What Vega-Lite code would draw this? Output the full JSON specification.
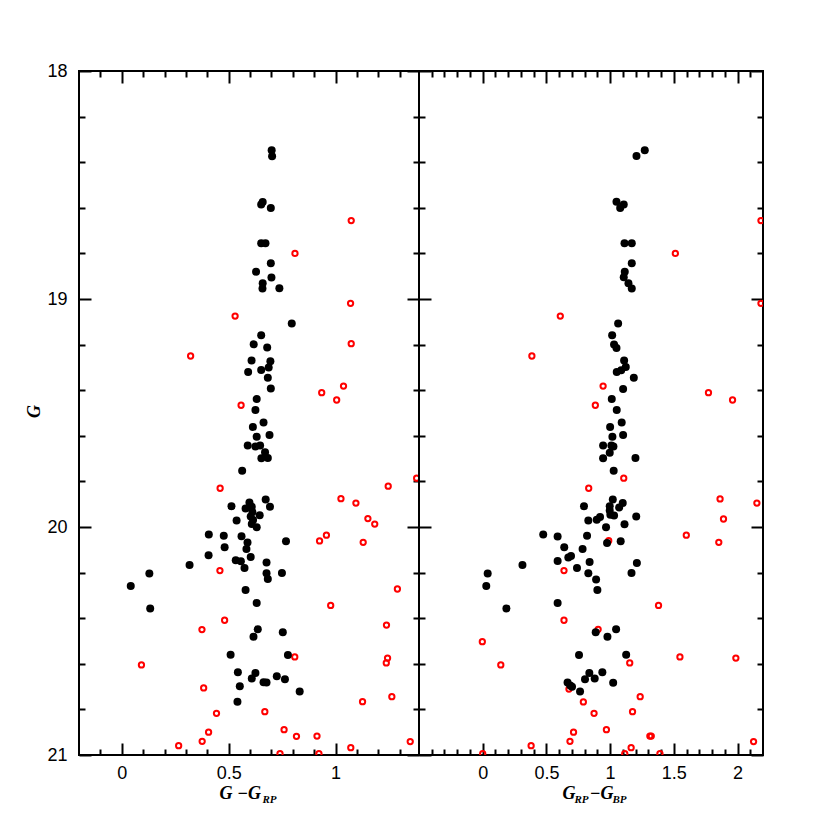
{
  "$schema": "https://vega.github.io/schema/vega-lite/v6.json",
  "background": "white",
  "padding": {"left": 24, "top": 61, "right": 5, "bottom": 5},
  "spacing": 0,
  "bounds": "flush",
  "config": {
    "view": {"stroke": "black", "strokeWidth": 2},
    "axis": {
      "domain": false, "grid": false,
      "labelFont": "Liberation Sans", "labelFontSize": 18, "labelColor": "black",
      "labelFlush": false, "labelOverlap": false,
      "tickColor": "black", "tickWidth": 2,
      "titleFont": "Liberation Serif", "titleFontStyle": "italic", "titleFontWeight": "bold",
      "titleFontSize": 18, "titleColor": "black"
    }
  },
  "datasets": {
    "left": [
      {"c":0.701,"G":18.348,"t":"m"},{"c":0.703,"G":18.374,"t":"m"},{"c":0.659,"G":18.575,"t":"m"},{"c":0.652,"G":18.585,"t":"m"},{"c":0.697,"G":18.601,"t":"m"},{"c":0.652,"G":18.756,"t":"m"},{"c":0.672,"G":18.756,"t":"m"},{"c":0.697,"G":18.843,"t":"m"},{"c":0.628,"G":18.880,"t":"m"},{"c":0.700,"G":18.906,"t":"m"},{"c":0.659,"G":18.931,"t":"m"},{"c":0.658,"G":18.954,"t":"m"},{"c":0.737,"G":18.953,"t":"m"},
      {"c":0.795,"G":19.108,"t":"m"},{"c":0.652,"G":19.159,"t":"m"},{"c":0.617,"G":19.199,"t":"m"},{"c":0.680,"G":19.213,"t":"m"},{"c":0.607,"G":19.270,"t":"m"},{"c":0.695,"G":19.273,"t":"m"},{"c":0.591,"G":19.320,"t":"m"},{"c":0.652,"G":19.311,"t":"m"},{"c":0.687,"G":19.300,"t":"m"},{"c":0.683,"G":19.345,"t":"m"},{"c":0.697,"G":19.393,"t":"m"},{"c":0.631,"G":19.439,"t":"m"},{"c":0.625,"G":19.487,"t":"m"},{"c":0.663,"G":19.542,"t":"m"},{"c":0.613,"G":19.561,"t":"m"},{"c":0.631,"G":19.604,"t":"m"},{"c":0.691,"G":19.596,"t":"m"},{"c":0.589,"G":19.642,"t":"m"},{"c":0.625,"G":19.647,"t":"m"},{"c":0.647,"G":19.643,"t":"m"},{"c":0.670,"G":19.672,"t":"m"},{"c":0.653,"G":19.699,"t":"m"},{"c":0.683,"G":19.697,"t":"m"},{"c":0.563,"G":19.753,"t":"m"},
      {"c":0.673,"G":19.879,"t":"m"},{"c":0.513,"G":19.909,"t":"m"},{"c":0.597,"G":19.893,"t":"m"},{"c":0.579,"G":19.919,"t":"m"},{"c":0.608,"G":19.911,"t":"m"},{"c":0.693,"G":19.911,"t":"m"},{"c":0.611,"G":19.934,"t":"m"},{"c":0.645,"G":19.949,"t":"m"},{"c":0.603,"G":19.954,"t":"m"},{"c":0.537,"G":19.971,"t":"m"},{"c":0.614,"G":19.969,"t":"m"},{"c":0.608,"G":19.987,"t":"m"},{"c":0.631,"G":20.001,"t":"m"},{"c":0.407,"G":20.033,"t":"m"},{"c":0.477,"G":20.038,"t":"m"},{"c":0.560,"G":20.041,"t":"m"},{"c":0.588,"G":20.068,"t":"m"},{"c":0.768,"G":20.063,"t":"m"},{"c":0.481,"G":20.089,"t":"m"},{"c":0.583,"G":20.096,"t":"m"},{"c":0.406,"G":20.124,"t":"m"},{"c":0.603,"G":20.132,"t":"m"},{"c":0.533,"G":20.146,"t":"m"},{"c":0.557,"G":20.150,"t":"m"},{"c":0.317,"G":20.167,"t":"m"},{"c":0.677,"G":20.156,"t":"m"},{"c":0.574,"G":20.180,"t":"m"},{"c":0.129,"G":20.204,"t":"m"},{"c":0.677,"G":20.203,"t":"m"},{"c":0.749,"G":20.202,"t":"m"},{"c":0.683,"G":20.228,"t":"m"},{"c":0.042,"G":20.259,"t":"m"},{"c":0.579,"G":20.276,"t":"m"},{"c":0.133,"G":20.357,"t":"m"},{"c":0.631,"G":20.333,"t":"m"},{"c":0.636,"G":20.449,"t":"m"},{"c":0.616,"G":20.481,"t":"m"},{"c":0.753,"G":20.462,"t":"m"},
      {"c":0.509,"G":20.560,"t":"m"},{"c":0.777,"G":20.561,"t":"m"},{"c":0.543,"G":20.637,"t":"m"},{"c":0.625,"G":20.640,"t":"m"},{"c":0.608,"G":20.664,"t":"m"},{"c":0.725,"G":20.655,"t":"m"},{"c":0.763,"G":20.668,"t":"m"},{"c":0.663,"G":20.681,"t":"m"},{"c":0.677,"G":20.682,"t":"m"},{"c":0.552,"G":20.699,"t":"m"},{"c":0.832,"G":20.721,"t":"m"},{"c":0.541,"G":20.766,"t":"m"},
      {"c":1.073,"G":18.656,"t":"n"},{"c":0.810,"G":18.800,"t":"n"},{"c":1.070,"G":19.019,"t":"n"},{"c":0.530,"G":19.075,"t":"n"},{"c":0.322,"G":19.250,"t":"n"},{"c":1.073,"G":19.196,"t":"n"},{"c":0.935,"G":19.411,"t":"n"},{"c":1.037,"G":19.382,"t":"n"},{"c":1.005,"G":19.443,"t":"n"},{"c":0.558,"G":19.466,"t":"n"},{"c":1.379,"G":19.786,"t":"n"},{"c":0.460,"G":19.830,"t":"n"},{"c":1.246,"G":19.821,"t":"n"},{"c":1.025,"G":19.876,"t":"n"},{"c":1.095,"G":19.895,"t":"n"},{"c":1.151,"G":19.963,"t":"n"},{"c":1.183,"G":19.987,"t":"n"},{"c":0.957,"G":20.036,"t":"n"},{"c":0.925,"G":20.061,"t":"n"},{"c":1.129,"G":20.067,"t":"n"},{"c":0.459,"G":20.191,"t":"n"},{"c":1.289,"G":20.272,"t":"n"},{"c":0.977,"G":20.344,"t":"n"},{"c":0.481,"G":20.409,"t":"n"},{"c":0.375,"G":20.450,"t":"n"},{"c":1.238,"G":20.430,"t":"n"},{"c":0.092,"G":20.605,"t":"n"},{"c":0.809,"G":20.570,"t":"n"},{"c":1.243,"G":20.575,"t":"n"},{"c":1.237,"G":20.596,"t":"n"},{"c":0.383,"G":20.706,"t":"n"},{"c":1.263,"G":20.744,"t":"n"},{"c":1.126,"G":20.766,"t":"n"},{"c":0.443,"G":20.817,"t":"n"},{"c":0.669,"G":20.810,"t":"n"},{"c":0.406,"G":20.900,"t":"n"},{"c":0.759,"G":20.889,"t":"n"},{"c":0.817,"G":20.918,"t":"n"},{"c":0.913,"G":20.917,"t":"n"},{"c":0.376,"G":20.940,"t":"n"},{"c":0.266,"G":20.959,"t":"n"},{"c":1.071,"G":20.968,"t":"n"},{"c":1.349,"G":20.941,"t":"n"},{"c":0.740,"G":20.994,"t":"n"},{"c":0.922,"G":20.994,"t":"n"}
    ],
    "right": [
      {"c":1.272,"G":18.348,"t":"m"},{"c":1.207,"G":18.373,"t":"m"},{"c":1.050,"G":18.573,"t":"m"},{"c":1.107,"G":18.585,"t":"m"},{"c":1.079,"G":18.601,"t":"m"},{"c":1.113,"G":18.756,"t":"m"},{"c":1.170,"G":18.756,"t":"m"},{"c":1.170,"G":18.843,"t":"m"},{"c":1.115,"G":18.880,"t":"m"},{"c":1.107,"G":18.905,"t":"m"},{"c":1.144,"G":18.931,"t":"m"},{"c":1.170,"G":18.954,"t":"m"},
      {"c":1.063,"G":19.108,"t":"m"},{"c":1.016,"G":19.159,"t":"m"},{"c":1.031,"G":19.200,"t":"m"},{"c":1.050,"G":19.215,"t":"m"},{"c":1.110,"G":19.270,"t":"m"},{"c":1.123,"G":19.298,"t":"m"},{"c":1.087,"G":19.313,"t":"m"},{"c":1.052,"G":19.320,"t":"m"},{"c":1.186,"G":19.345,"t":"m"},{"c":1.102,"G":19.395,"t":"m"},{"c":1.013,"G":19.439,"t":"m"},{"c":1.052,"G":19.487,"t":"m"},{"c":1.091,"G":19.542,"t":"m"},{"c":1.000,"G":19.561,"t":"m"},{"c":1.018,"G":19.604,"t":"m"},{"c":1.102,"G":19.596,"t":"m"},{"c":0.945,"G":19.643,"t":"m"},{"c":1.010,"G":19.642,"t":"m"},{"c":1.026,"G":19.647,"t":"m"},{"c":0.997,"G":19.674,"t":"m"},{"c":0.945,"G":19.699,"t":"m"},{"c":1.199,"G":19.697,"t":"m"},{"c":1.028,"G":19.753,"t":"m"},
      {"c":1.021,"G":19.879,"t":"m"},{"c":1.099,"G":19.895,"t":"m"},{"c":0.795,"G":19.909,"t":"m"},{"c":0.997,"G":19.909,"t":"m"},{"c":1.071,"G":19.914,"t":"m"},{"c":0.997,"G":19.928,"t":"m"},{"c":1.002,"G":19.946,"t":"m"},{"c":1.031,"G":19.950,"t":"m"},{"c":0.829,"G":19.971,"t":"m"},{"c":0.895,"G":19.968,"t":"m"},{"c":0.921,"G":19.956,"t":"m"},{"c":1.205,"G":19.954,"t":"m"},{"c":1.113,"G":19.988,"t":"m"},{"c":0.968,"G":20.001,"t":"m"},{"c":0.475,"G":20.033,"t":"m"},{"c":0.588,"G":20.042,"t":"m"},{"c":0.819,"G":20.038,"t":"m"},{"c":0.976,"G":20.070,"t":"m"},{"c":1.083,"G":20.063,"t":"m"},{"c":0.640,"G":20.089,"t":"m"},{"c":0.784,"G":20.096,"t":"m"},{"c":0.672,"G":20.134,"t":"m"},{"c":0.693,"G":20.127,"t":"m"},{"c":0.588,"G":20.149,"t":"m"},{"c":0.839,"G":20.154,"t":"m"},{"c":0.312,"G":20.167,"t":"m"},{"c":1.210,"G":20.158,"t":"m"},{"c":0.740,"G":20.180,"t":"m"},{"c":0.039,"G":20.204,"t":"m"},{"c":0.829,"G":20.203,"t":"m"},{"c":1.168,"G":20.202,"t":"m"},{"c":0.890,"G":20.230,"t":"m"},{"c":0.028,"G":20.259,"t":"m"},{"c":0.900,"G":20.276,"t":"m"},{"c":0.186,"G":20.357,"t":"m"},{"c":0.588,"G":20.333,"t":"m"},{"c":0.887,"G":20.462,"t":"m"},{"c":1.047,"G":20.449,"t":"m"},{"c":0.979,"G":20.481,"t":"m"},
      {"c":0.756,"G":20.561,"t":"m"},{"c":1.126,"G":20.560,"t":"m"},{"c":0.837,"G":20.640,"t":"m"},{"c":0.939,"G":20.637,"t":"m"},{"c":0.803,"G":20.668,"t":"m"},{"c":0.879,"G":20.664,"t":"m"},{"c":1.024,"G":20.683,"t":"m"},{"c":0.666,"G":20.682,"t":"m"},{"c":0.687,"G":20.695,"t":"m"},{"c":0.701,"G":20.701,"t":"m"},{"c":0.764,"G":20.721,"t":"m"},
      {"c":2.184,"G":18.656,"t":"n"},{"c":1.512,"G":18.800,"t":"n"},{"c":2.184,"G":19.019,"t":"n"},{"c":0.609,"G":19.075,"t":"n"},{"c":0.386,"G":19.250,"t":"n"},{"c":0.945,"G":19.382,"t":"n"},{"c":1.772,"G":19.411,"t":"n"},{"c":1.961,"G":19.443,"t":"n"},{"c":0.884,"G":19.466,"t":"n"},{"c":1.107,"G":19.786,"t":"n"},{"c":0.832,"G":19.830,"t":"n"},{"c":1.863,"G":19.877,"t":"n"},{"c":2.152,"G":19.895,"t":"n"},{"c":1.890,"G":19.965,"t":"n"},{"c":1.598,"G":20.036,"t":"n"},{"c":1.853,"G":20.067,"t":"n"},{"c":0.989,"G":20.060,"t":"n"},{"c":0.638,"G":20.191,"t":"n"},{"c":1.380,"G":20.344,"t":"n"},{"c":0.638,"G":20.409,"t":"n"},{"c":0.906,"G":20.449,"t":"n"},{"c":-0.003,"G":20.503,"t":"n"},{"c":0.142,"G":20.605,"t":"n"},{"c":1.154,"G":20.596,"t":"n"},{"c":1.548,"G":20.570,"t":"n"},{"c":1.987,"G":20.575,"t":"n"},{"c":0.677,"G":20.711,"t":"n"},{"c":1.236,"G":20.744,"t":"n"},{"c":0.790,"G":20.767,"t":"n"},{"c":0.874,"G":20.817,"t":"n"},{"c":1.176,"G":20.810,"t":"n"},{"c":0.971,"G":20.889,"t":"n"},{"c":0.713,"G":20.900,"t":"n"},{"c":1.312,"G":20.917,"t":"n"},{"c":1.323,"G":20.917,"t":"n"},{"c":0.685,"G":20.940,"t":"n"},{"c":0.380,"G":20.959,"t":"n"},{"c":1.165,"G":20.968,"t":"n"},{"c":2.126,"G":20.941,"t":"n"},{"c":0.000,"G":20.994,"t":"n"},{"c":1.115,"G":20.994,"t":"n"},{"c":1.391,"G":20.994,"t":"n"}
    ]
  },
  "hconcat": [
    {
      "width": 340, "height": 684,
      "data": {"name": "left"},
      "resolve": {"axis": {"x": "independent", "y": "independent"}},
      "layer": [
        {
          "transform": [{"filter": "datum.t == 'n'"}],
          "mark": {"type": "point", "shape": "circle", "filled": false, "stroke": "#ff0000", "strokeWidth": 2, "size": 28, "opacity": 1, "clip": true},
          "encoding": {
            "x": {"field": "c", "type": "quantitative", "scale": {"domain": [-0.2, 1.39], "nice": false, "zero": false},
                  "axis": {"orient": "bottom", "values": [0, 0.5, 1], "labels": false, "tickSize": -12, "title": "G −G", "titleX": 140, "titleY": 43, "titleAlign": "left", "titleBaseline": "alphabetic", "titleAngle": 0}},
            "y": {"field": "G", "type": "quantitative", "scale": {"domain": [18, 21], "nice": false, "zero": false, "reverse": true},
                  "axis": {"orient": "left", "values": [18, 19, 20, 21], "labels": false, "tickSize": -12, "title": null}}
          }
        },
        {
          "transform": [{"filter": "datum.t == 'm'"}],
          "mark": {"type": "point", "shape": "circle", "filled": true, "color": "black", "size": 64, "opacity": 1, "clip": true},
          "encoding": {
            "x": {"field": "c", "type": "quantitative", "scale": {"domain": [-0.2, 1.39], "nice": false, "zero": false},
                  "axis": {"orient": "bottom", "values": [0, 0.5, 1], "format": "~g", "ticks": false, "labelPadding": 9, "title": "RP", "titleFontSize": 11, "titleX": 183, "titleY": 47, "titleAlign": "left", "titleBaseline": "alphabetic", "titleAngle": 0}},
            "y": {"field": "G", "type": "quantitative", "scale": {"domain": [18, 21], "nice": false, "zero": false, "reverse": true},
                  "axis": {"orient": "left", "values": [18, 19, 20, 21], "format": "~g", "ticks": false, "labelPadding": 12, "title": "G", "titleX": -45, "titleY": 340, "titleAngle": 270, "titleAlign": "center", "titleBaseline": "middle"}}
          }
        },
        {
          "mark": {"type": "point", "opacity": 0},
          "encoding": {
            "x": {"field": "c", "type": "quantitative", "scale": {"domain": [-0.2, 1.39], "nice": false, "zero": false},
                  "axis": {"orient": "bottom", "values": [-0.1, 0.1, 0.2, 0.3, 0.4, 0.6, 0.7, 0.8, 0.9, 1.1, 1.2, 1.3], "labels": false, "tickSize": -6, "title": null}},
            "y": {"field": "G", "type": "quantitative", "scale": {"domain": [18, 21], "nice": false, "zero": false, "reverse": true},
                  "axis": {"orient": "left", "values": [18.2, 18.4, 18.6, 18.8, 19.2, 19.4, 19.6, 19.8, 20.2, 20.4, 20.6, 20.8], "labels": false, "tickSize": -6, "title": null}}
          }
        },
        {
          "mark": {"type": "point", "opacity": 0},
          "encoding": {
            "x": {"field": "c", "type": "quantitative", "scale": {"domain": [-0.2, 1.39], "nice": false, "zero": false},
                  "axis": {"orient": "top", "values": [0, 0.5, 1], "labels": false, "tickSize": -12, "title": null}},
            "y": {"field": "G", "type": "quantitative", "scale": {"domain": [18, 21], "nice": false, "zero": false, "reverse": true},
                  "axis": {"orient": "right", "values": [18, 19, 20, 21], "labels": false, "tickSize": -12, "title": null}}
          }
        },
        {
          "mark": {"type": "point", "opacity": 0},
          "encoding": {
            "x": {"field": "c", "type": "quantitative", "scale": {"domain": [-0.2, 1.39], "nice": false, "zero": false},
                  "axis": {"orient": "top", "values": [-0.1, 0.1, 0.2, 0.3, 0.4, 0.6, 0.7, 0.8, 0.9, 1.1, 1.2, 1.3], "labels": false, "tickSize": -6, "title": null}},
            "y": {"field": "G", "type": "quantitative", "scale": {"domain": [18, 21], "nice": false, "zero": false, "reverse": true},
                  "axis": {"orient": "right", "values": [18.2, 18.4, 18.6, 18.8, 19.2, 19.4, 19.6, 19.8, 20.2, 20.4, 20.6, 20.8], "labels": false, "tickSize": -6, "title": null}}
          }
        }
      ]
    },
    {
      "width": 344, "height": 684,
      "data": {"name": "right"},
      "resolve": {"axis": {"x": "independent", "y": "independent"}},
      "layer": [
        {
          "transform": [{"filter": "datum.t == 'n'"}],
          "mark": {"type": "point", "shape": "circle", "filled": false, "stroke": "#ff0000", "strokeWidth": 2, "size": 28, "opacity": 1, "clip": true},
          "encoding": {
            "x": {"field": "c", "type": "quantitative", "scale": {"domain": [-0.5, 2.2], "nice": false, "zero": false},
                  "axis": {"orient": "bottom", "values": [0, 0.5, 1, 1.5, 2], "labels": false, "tickSize": -12, "title": "G", "titleX": 143, "titleY": 43, "titleAlign": "left", "titleBaseline": "alphabetic", "titleAngle": 0}},
            "y": {"field": "G", "type": "quantitative", "scale": {"domain": [18, 21], "nice": false, "zero": false, "reverse": true},
                  "axis": {"orient": "left", "values": [18, 19, 20, 21], "labels": false, "tickSize": -12, "title": null}}
          }
        },
        {
          "transform": [{"filter": "datum.t == 'm'"}],
          "mark": {"type": "point", "shape": "circle", "filled": true, "color": "black", "size": 64, "opacity": 1, "clip": true},
          "encoding": {
            "x": {"field": "c", "type": "quantitative", "scale": {"domain": [-0.5, 2.2], "nice": false, "zero": false},
                  "axis": {"orient": "bottom", "values": [0, 0.5, 1, 1.5, 2], "format": "~g", "ticks": false, "labelPadding": 9, "title": "RP", "titleFontSize": 11, "titleX": 155, "titleY": 47, "titleAlign": "left", "titleBaseline": "alphabetic", "titleAngle": 0}},
            "y": {"field": "G", "type": "quantitative", "scale": {"domain": [18, 21], "nice": false, "zero": false, "reverse": true},
                  "axis": null}
          }
        },
        {
          "mark": {"type": "point", "opacity": 0},
          "encoding": {
            "x": {"field": "c", "type": "quantitative", "scale": {"domain": [-0.5, 2.2], "nice": false, "zero": false},
                  "axis": {"orient": "bottom", "values": [-0.4, -0.3, -0.2, -0.1, 0.1, 0.2, 0.3, 0.4, 0.6, 0.7, 0.8, 0.9, 1.1, 1.2, 1.3, 1.4, 1.6, 1.7, 1.8, 1.9, 2.1], "labels": false, "tickSize": -6, "title": "−G", "titleX": 170, "titleY": 43, "titleAlign": "left", "titleBaseline": "alphabetic", "titleAngle": 0}},
            "y": {"field": "G", "type": "quantitative", "scale": {"domain": [18, 21], "nice": false, "zero": false, "reverse": true},
                  "axis": {"orient": "left", "values": [18.2, 18.4, 18.6, 18.8, 19.2, 19.4, 19.6, 19.8, 20.2, 20.4, 20.6, 20.8], "labels": false, "tickSize": -6, "title": null}}
          }
        },
        {
          "mark": {"type": "point", "opacity": 0},
          "encoding": {
            "x": {"field": "c", "type": "quantitative", "scale": {"domain": [-0.5, 2.2], "nice": false, "zero": false},
                  "axis": {"orient": "top", "values": [0, 0.5, 1, 1.5, 2], "labels": false, "tickSize": -12, "title": "BP", "titleFontSize": 11, "titleX": 193, "titleY": 731, "titleAlign": "left", "titleBaseline": "alphabetic", "titleAngle": 0}},
            "y": {"field": "G", "type": "quantitative", "scale": {"domain": [18, 21], "nice": false, "zero": false, "reverse": true},
                  "axis": {"orient": "right", "values": [18, 19, 20, 21], "labels": false, "tickSize": -12, "title": null}}
          }
        },
        {
          "mark": {"type": "point", "opacity": 0},
          "encoding": {
            "x": {"field": "c", "type": "quantitative", "scale": {"domain": [-0.5, 2.2], "nice": false, "zero": false},
                  "axis": {"orient": "top", "values": [-0.4, -0.3, -0.2, -0.1, 0.1, 0.2, 0.3, 0.4, 0.6, 0.7, 0.8, 0.9, 1.1, 1.2, 1.3, 1.4, 1.6, 1.7, 1.8, 1.9, 2.1], "labels": false, "tickSize": -6, "title": null}},
            "y": {"field": "G", "type": "quantitative", "scale": {"domain": [18, 21], "nice": false, "zero": false, "reverse": true},
                  "axis": {"orient": "right", "values": [18.2, 18.4, 18.6, 18.8, 19.2, 19.4, 19.6, 19.8, 20.2, 20.4, 20.6, 20.8], "labels": false, "tickSize": -6, "title": null}}
          }
        }
      ]
    }
  ]
}
